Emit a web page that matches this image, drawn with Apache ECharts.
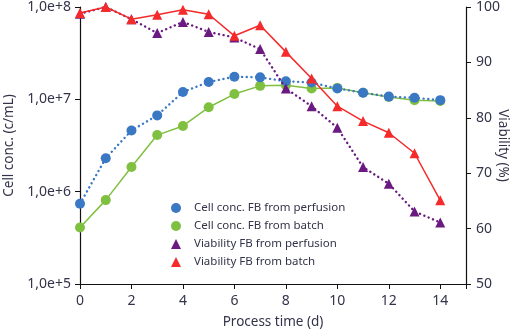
<!DOCTYPE html>
<html>
<head>
<meta charset="utf-8">
<script src="https://cdn.jsdelivr.net/npm/echarts@6/dist/echarts.min.js"></script>
<style>
  html, body { margin: 0; padding: 0; background: #fff; }
  #chart { width: 512px; height: 331px; }
</style>
</head>
<body>
<div id="chart"></div>
<script>
// Process day for every sample
const days = [0, 1, 2, 3, 4, 5, 6, 7, 8, 9, 10, 11, 12, 13, 14];

// Cell concentration (cells/mL), log scale
const cellPerfusion = [7.4e5, 2.3e6, 4.6e6, 6.7e6, 1.2e7, 1.54e7, 1.76e7, 1.73e7, 1.57e7, 1.52e7, 1.31e7, 1.18e7, 1.07e7, 1.04e7, 9.8e6];
const cellBatch     = [4.1e5, 8.1e5, 1.85e6, 4.1e6, 5.15e6, 8.2e6, 1.14e7, 1.4e7, 1.42e7, 1.31e7, 1.33e7, 1.18e7, 1.06e7, 9.8e6, 9.6e6];

// Viability (%)
const viaPerfusion = [98.8, 100, 97.8, 95.3, 97.3, 95.5, 94.5, 92.4, 85.3, 82.1, 78.2, 71.1, 68.1, 63.1, 61.1];
const viaBatch     = [98.9, 100, 97.8, 98.6, 99.5, 98.7, 94.8, 96.7, 91.9, 87.1, 82.1, 79.4, 77.3, 73.6, 65.1];

const seriesNames = [
  'Cell conc. FB from perfusion',
  'Cell conc. FB from batch',
  'Viability FB from perfusion',
  'Viability FB from batch'
];

const colors = {
  blue: '#3a78c4',
  green: '#80c040',
  purple: '#6a1a80',
  red: '#f52a2a'
};

const textColor = '#33334a';
const font = 'Noto Sans';

// round dots for the dotted series
const dotted = [0.1, 4.6];

const pairs = (ys) => days.map((d, i) => [d, ys[i]]);

const chart = echarts.init(document.getElementById('chart'), null, { renderer: 'canvas' });

chart.setOption({
  animation: false,
  grid: { left: 80, right: 46, top: 7, bottom: 47, containLabel: false, outerBoundsMode: 'none' },
  legend: {
    orient: 'vertical',
    left: 171,
    top: 202,
    padding: 0,
    itemWidth: 10,
    itemHeight: 10,
    itemGap: 6,
    data: [
      { name: seriesNames[0], icon: 'circle' },
      { name: seriesNames[1], icon: 'circle' },
      { name: seriesNames[2], icon: 'triangle' },
      { name: seriesNames[3], icon: 'triangle' }
    ],
    textStyle: { color: textColor, fontFamily: font, fontSize: 11.5, padding: [0, 0, 0, 8] }
  },
  xAxis: {
    type: 'value',
    min: 0,
    max: 15,
    interval: 2,
    name: 'Process time (d)',
    nameLocation: 'middle',
    nameGap: 31,
    nameTextStyle: { color: textColor, fontFamily: font, fontSize: 13.5 },
    axisLine: { show: true, lineStyle: { color: '#111', width: 1.2 } },
    axisTick: { show: true, length: 5, lineStyle: { color: '#111' } },
    axisLabel: {
      color: textColor, fontFamily: font, fontSize: 14, margin: 10,
      formatter: (v) => (v > 14 ? '' : String(v))
    },
    splitLine: { show: false }
  },
  yAxis: [
    {
      type: 'log',
      logBase: 10,
      min: 1e5,
      max: 1e8,
      position: 'left',
      name: 'Cell conc. (c/mL)',
      nameLocation: 'middle',
      nameGap: 64,
      nameMoveOverlap: false,
      nameTextStyle: { color: textColor, fontFamily: font, fontSize: 13.5 },
      axisLine: { show: true, lineStyle: { color: '#111', width: 1.2 } },
      axisTick: { show: true, length: 5, lineStyle: { color: '#111' } },
      axisLabel: {
        color: textColor, fontFamily: font, fontSize: 14, margin: 9,
        formatter: (v) => '1,0e+' + Math.round(Math.log10(v))
      },
      splitLine: { show: false }
    },
    {
      type: 'value',
      min: 50,
      max: 100,
      interval: 10,
      position: 'right',
      name: 'Viability (%)',
      nameLocation: 'middle',
      nameRotate: -90,
      nameGap: 30,
      nameMoveOverlap: false,
      nameTextStyle: { color: textColor, fontFamily: font, fontSize: 13.5 },
      axisLine: { show: true, lineStyle: { color: '#111', width: 1.2 } },
      axisTick: { show: true, length: 5, lineStyle: { color: '#111' } },
      axisLabel: { color: textColor, fontFamily: font, fontSize: 14, margin: 10 },
      splitLine: { show: false }
    }
  ],
  series: [
    {
      name: seriesNames[1],
      type: 'line',
      yAxisIndex: 0,
      data: pairs(cellBatch),
      symbol: 'circle',
      symbolSize: 10,
      itemStyle: { color: colors.green },
      lineStyle: { color: colors.green, width: 1.5 },
      z: 2
    },
    {
      name: seriesNames[0],
      type: 'line',
      yAxisIndex: 0,
      data: pairs(cellPerfusion),
      symbol: 'circle',
      symbolSize: 10,
      itemStyle: { color: colors.blue },
      lineStyle: { color: colors.blue, width: 2.4, type: dotted, cap: 'round' },
      z: 3
    },
    {
      name: seriesNames[2],
      type: 'line',
      yAxisIndex: 1,
      data: pairs(viaPerfusion),
      symbol: 'triangle',
      symbolSize: 10,
      itemStyle: { color: colors.purple },
      lineStyle: { color: colors.purple, width: 2.4, type: dotted, cap: 'round' },
      z: 4
    },
    {
      name: seriesNames[3],
      type: 'line',
      yAxisIndex: 1,
      data: pairs(viaBatch),
      symbol: 'triangle',
      symbolSize: 10,
      itemStyle: { color: colors.red },
      lineStyle: { color: colors.red, width: 1.5 },
      z: 5
    }
  ]
});
</script>
</body>
</html>
